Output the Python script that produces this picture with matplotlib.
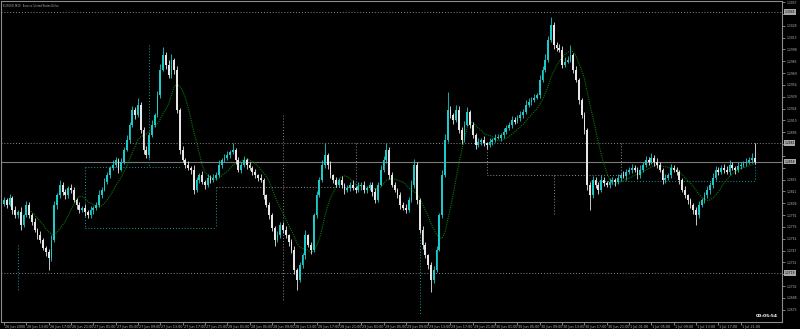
import numpy as np
import pandas as pd
import matplotlib
matplotlib.use("Agg")
import matplotlib.pyplot as plt
from matplotlib import transforms

title_text = "EURUSD, M30:  Euro vs. United States Dollar"
start_time = "2006-06-26 09:00"
timer_text = "00:05:54"
first_open = 1.2805

# closing prices, one per M30 bar
closes = [
    1.2810, 1.2804, 1.2813, 1.2798, 1.2791, 1.2795, 1.2779, 1.2791, 1.2804, 1.2791,
    1.2783, 1.2773, 1.2766, 1.2760, 1.2750, 1.2745, 1.2738, 1.2760, 1.2804, 1.2816,
    1.2829, 1.2820, 1.2816, 1.2825, 1.2823, 1.2810, 1.2804, 1.2798, 1.2800, 1.2795,
    1.2791, 1.2798, 1.2800, 1.2804, 1.2816, 1.2823, 1.2833, 1.2841, 1.2850, 1.2854,
    1.2860, 1.2848, 1.2858, 1.2873, 1.2885, 1.2904, 1.2923, 1.2916, 1.2929, 1.2898,
    1.2873, 1.2866, 1.2891, 1.2904, 1.2916, 1.2941, 1.2973, 1.2991, 1.2979, 1.2966,
    1.2985, 1.2973, 1.2923, 1.2873, 1.2860, 1.2854, 1.2850, 1.2848, 1.2823, 1.2835,
    1.2841, 1.2833, 1.2829, 1.2838, 1.2835, 1.2838, 1.2841, 1.2854, 1.2860, 1.2863,
    1.2866, 1.2870, 1.2873, 1.2860, 1.2848, 1.2854, 1.2860, 1.2854, 1.2850, 1.2845,
    1.2841, 1.2838, 1.2835, 1.2816, 1.2804, 1.2791, 1.2775, 1.2760, 1.2766, 1.2779,
    1.2773, 1.2766, 1.2758, 1.2748, 1.2723, 1.2710, 1.2729, 1.2741, 1.2766, 1.2754,
    1.2748, 1.2791, 1.2816, 1.2835, 1.2854, 1.2866, 1.2854, 1.2841, 1.2835, 1.2829,
    1.2835, 1.2829, 1.2823, 1.2825, 1.2829, 1.2825, 1.2823, 1.2828, 1.2829, 1.2823,
    1.2825, 1.2829, 1.2820, 1.2810, 1.2829, 1.2848, 1.2860, 1.2873, 1.2841, 1.2829,
    1.2823, 1.2816, 1.2804, 1.2800, 1.2798, 1.2810, 1.2829, 1.2854, 1.2810, 1.2773,
    1.2754, 1.2741, 1.2729, 1.2710, 1.2723, 1.2748, 1.2791, 1.2841, 1.2885, 1.2923,
    1.2916, 1.2910, 1.2923, 1.2898, 1.2885, 1.2904, 1.2920, 1.2904, 1.2891, 1.2879,
    1.2883, 1.2885, 1.2881, 1.2879, 1.2883, 1.2885, 1.2888, 1.2888, 1.2891, 1.2895,
    1.2900, 1.2904, 1.2910, 1.2908, 1.2913, 1.2916, 1.2920, 1.2929, 1.2933, 1.2935,
    1.2938, 1.2941, 1.2960, 1.2973, 1.2985, 1.3010, 1.3029, 1.3004, 1.3000, 1.2998,
    1.2979, 1.2983, 1.2985, 1.2991, 1.2973, 1.2960, 1.2935, 1.2916, 1.2898, 1.2829,
    1.2816, 1.2835, 1.2829, 1.2823, 1.2835, 1.2831, 1.2829, 1.2833, 1.2835, 1.2833,
    1.2838, 1.2841, 1.2840, 1.2845, 1.2848, 1.2850, 1.2848, 1.2841, 1.2848, 1.2854,
    1.2860, 1.2858, 1.2863, 1.2858, 1.2854, 1.2848, 1.2835, 1.2838, 1.2841, 1.2850,
    1.2848, 1.2845, 1.2835, 1.2823, 1.2816, 1.2810, 1.2804, 1.2798, 1.2791, 1.2804,
    1.2810, 1.2816, 1.2823, 1.2829, 1.2838, 1.2848, 1.2845, 1.2850, 1.2848, 1.2845,
    1.2854, 1.2850, 1.2848, 1.2853, 1.2854, 1.2856, 1.2858, 1.2860, 1.2863, 1.2858,
]

# wick lengths in pips above/below the candle body
upper_wick_pips = [
    4, 3, 5, 2, 4, 3, 6, 2, 5, 3,  3, 4, 2, 5, 3, 2, 4, 6, 5, 3,
    6, 3, 4, 2, 5, 3, 2, 4, 3, 5,  3, 5, 2, 4, 6, 3, 5, 4, 3, 6,
    4, 2, 5, 3, 6, 4, 5, 3, 9, 4,  3, 5, 4, 6, 3, 5, 7, 10, 4, 6,
    8, 3, 5, 2, 4, 3, 5, 2, 6, 4,  3, 5, 2, 4, 3, 5, 4, 6, 3, 4,
    5, 3, 8, 2, 4, 3, 5, 2, 4, 3,  4, 2, 5, 3, 2, 4, 3, 2, 5, 3,
    3, 4, 2, 3, 5, 2, 4, 3, 6, 2,  4, 3, 5, 4, 6, 15, 3, 5, 2, 4,
    3, 5, 2, 4, 3, 6, 2, 4, 3, 5,  2, 4, 3, 5, 4, 6, 5, 8, 3, 4,
    3, 2, 4, 3, 5, 4, 6, 7, 3, 2,  4, 3, 2, 3, 5, 4, 3, 6, 8, 22,
    5, 3, 6, 4, 3, 5, 6, 2, 4, 3,  4, 3, 5, 2, 4, 3, 5, 4, 3, 5,
    4, 3, 5, 4, 3, 5, 4, 6, 5, 4,  5, 3, 6, 4, 7, 5, 10, 4, 3, 5,
    4, 6, 5, 13, 3, 4, 2, 3, 4, 2,  3, 5, 4, 3, 6, 4, 3, 5, 4, 3,
    4, 3, 5, 4, 3, 5, 4, 3, 6, 4,  5, 4, 6, 3, 4, 3, 2, 4, 3, 5,
    4, 3, 2, 3, 4, 2, 3, 2, 3, 5,  3, 4, 5, 4, 6, 5, 3, 4, 5, 4,
    6, 4, 3, 5, 4, 3, 5, 4, 6, 18,
]
lower_wick_pips = [
    3, 4, 2, 5, 3, 4, 6, 3, 2, 4,  4, 3, 5, 4, 3, 5, 15, 4, 3, 5,
    3, 4, 5, 3, 4, 2, 5, 4, 3, 5,  4, 3, 5, 2, 3, 4, 2, 3, 4, 3,
    3, 4, 2, 3, 2, 4, 3, 5, 2, 4,  5, 3, 4, 2, 3, 2, 3, 2, 5, 4,
    3, 5, 4, 6, 3, 4, 3, 5, 6, 3,  4, 3, 5, 3, 4, 2, 3, 2, 4, 3,
    3, 4, 2, 5, 3, 4, 3, 5, 2, 4,  3, 4, 2, 5, 3, 5, 4, 7, 3, 4,
    4, 3, 5, 4, 6, 12, 3, 4, 5, 3,  5, 3, 4, 2, 3, 4, 5, 3, 4, 3,
    3, 4, 5, 3, 4, 3, 4, 3, 5, 4,  4, 3, 5, 4, 3, 2, 3, 4, 5, 3,
    3, 4, 5, 3, 4, 3, 2, 4, 5, 4,  5, 4, 5, 15, 4, 3, 2, 3, 2, 3,
    4, 5, 3, 4, 5, 3, 2, 4, 3, 5,  3, 4, 3, 5, 3, 4, 3, 2, 4, 3,
    3, 2, 4, 3, 2, 4, 3, 2, 3, 4,  3, 2, 3, 2, 3, 2, 3, 5, 4, 3,
    4, 3, 2, 3, 4, 3, 5, 4, 5, 6,  18, 3, 4, 5, 3, 4, 3, 4, 3, 5,
    3, 4, 3, 5, 3, 4, 3, 5, 4, 3,  3, 4, 3, 5, 4, 3, 5, 4, 3, 4,
    3, 4, 5, 3, 4, 5, 4, 5, 12, 4,  3, 4, 3, 5, 4, 3, 4, 3, 4, 3,
    4, 3, 5, 3, 4, 3, 4, 3, 4, 3,
]

# horizontal price levels drawn across the chart
level_lines = [1.3045, 1.2881, 1.2719]

# dotted indicator boxes: (bar_from, price_from, bar_to, price_to)
cyan_segments = [
    (5, 1.2754, 5, 1.2698),
    (29, 1.2851, 63, 1.2851),
    (29, 1.2851, 29, 1.2775),
    (29, 1.2775, 76, 1.2775),
    (76, 1.2826, 76, 1.2775),
    (52, 1.3004, 52, 1.2851),
    (149, 1.2779, 149, 1.2666),
    (210, 1.2834, 269, 1.2834),
    (269, 1.2881, 269, 1.2834),
]
gray_segments = [
    (76, 1.2826, 126, 1.2826),
    (126, 1.2881, 126, 1.2826),
    (100, 1.2916, 100, 1.2685),
    (173, 1.2881, 173, 1.2841),
    (173, 1.2841, 221, 1.2841),
    (221, 1.2881, 221, 1.2841),
    (197, 1.2841, 197, 1.2791),
]

BG = "#000000"
FG = "#b4b4b4"
UP = "#1ccaca"
DOWN = "#e6e6e6"
CYAN_DOT = "#139c9c"
GRAY_DOT = "#8a8a8a"

n = len(closes)
x = np.arange(n)
c = np.array(closes)
o = np.array([first_open] + closes[:-1])
hi = np.maximum(o, c) + np.array(upper_wick_pips) * 0.0001
lo = np.minimum(o, c) - np.array(lower_wick_pips) * 0.0001
cols = np.where(c >= o, UP, DOWN)
ma = pd.Series(c).rolling(10).mean()
times = pd.date_range(start_time, periods=n, freq="30min")

fig = plt.figure(figsize=(8, 3.29), dpi=100, facecolor=BG)
ax = fig.add_axes([1 / 800, 7 / 329, 781 / 800, 321 / 329], facecolor=BG)
ax.set_xlim(-1.075, 278.8)
ax.set_ylim(1.26575, 1.305875)

# levels and boxes
for lv in level_lines:
    ax.axhline(lv, color=GRAY_DOT, lw=0.7, ls=(0, (1, 2)), zorder=1)
ax.axhline(closes[-1], color="#7a7a7a", lw=0.8, zorder=1)
for x0, y0, x1, y1 in cyan_segments:
    ax.plot([x0, x1], [y0, y1], color=CYAN_DOT, lw=0.7, ls=(0, (1, 2)), zorder=1)
for x0, y0, x1, y1 in gray_segments:
    ax.plot([x0, x1], [y0, y1], color=GRAY_DOT, lw=0.7, ls=(0, (1, 2)), zorder=1)

# candles
ax.vlines(x, lo, hi, colors=cols, lw=0.6, zorder=3)
body = np.maximum(np.abs(c - o), 0.00005)
ax.bar(x, body, bottom=np.minimum(o, c), width=0.65, color=cols, linewidth=0, zorder=3)

# moving average
ax.plot(x, ma, color="#0a7a0a", lw=0.8, ls=(0, (1, 1)), zorder=2)

for s in ax.spines.values():
    s.set_color("#8c8c8c")
    s.set_linewidth(0.8)

# price axis; scale labels that sit under a highlighted price are left blank
marked = level_lines + [closes[-1]]
yt = 1.30575 - 0.00148 * np.arange(27)
ax.yaxis.tick_right()
ax.set_yticks(yt)
ax.set_yticklabels(["" if min(abs(v - m) for m in marked) < 0.0009 else f"{v:.4f}" for v in yt])
ax.tick_params(axis="y", colors=FG, labelsize=2.2, length=2, width=0.5, pad=1)

# time axis
xt = x[::8]
xl = [f"{times[0].day} {times[0]:%b %Y}"] + [f"{t.day} {t:%b %H:%M}" for t in times[8::8]]
ax.set_xticks(xt)
ax.set_xticklabels(xl)
ax.tick_params(axis="x", colors=FG, labelsize=2.4, length=2, width=0.5, pad=0.5)
off = transforms.ScaledTranslation(1 / 100, 0, fig.dpi_scale_trans)
for lbl in ax.get_xticklabels():
    lbl.set_horizontalalignment("left")
    lbl.set_transform(lbl.get_transform() + off)

# highlighted prices on the scale
btr = transforms.blended_transform_factory(ax.transAxes, ax.transData)
for lv in marked:
    ax.text(1.003, lv, f"{lv:.4f}", transform=btr, fontsize=2.2, color="#000000",
            va="center", ha="left", clip_on=False,
            bbox=dict(boxstyle="square,pad=0.25", fc="#a8a8a8", ec="none"))

ax.text(0.003, 0.992, title_text, transform=ax.transAxes, fontsize=1.8,
        color=FG, va="top", ha="left")
ax.text(0.995, 0.012, timer_text, transform=ax.transAxes, fontsize=3.2,
        color="#ffffff", fontweight="bold", va="bottom", ha="right")

fig.savefig("out.png", dpi=100, facecolor=BG)
